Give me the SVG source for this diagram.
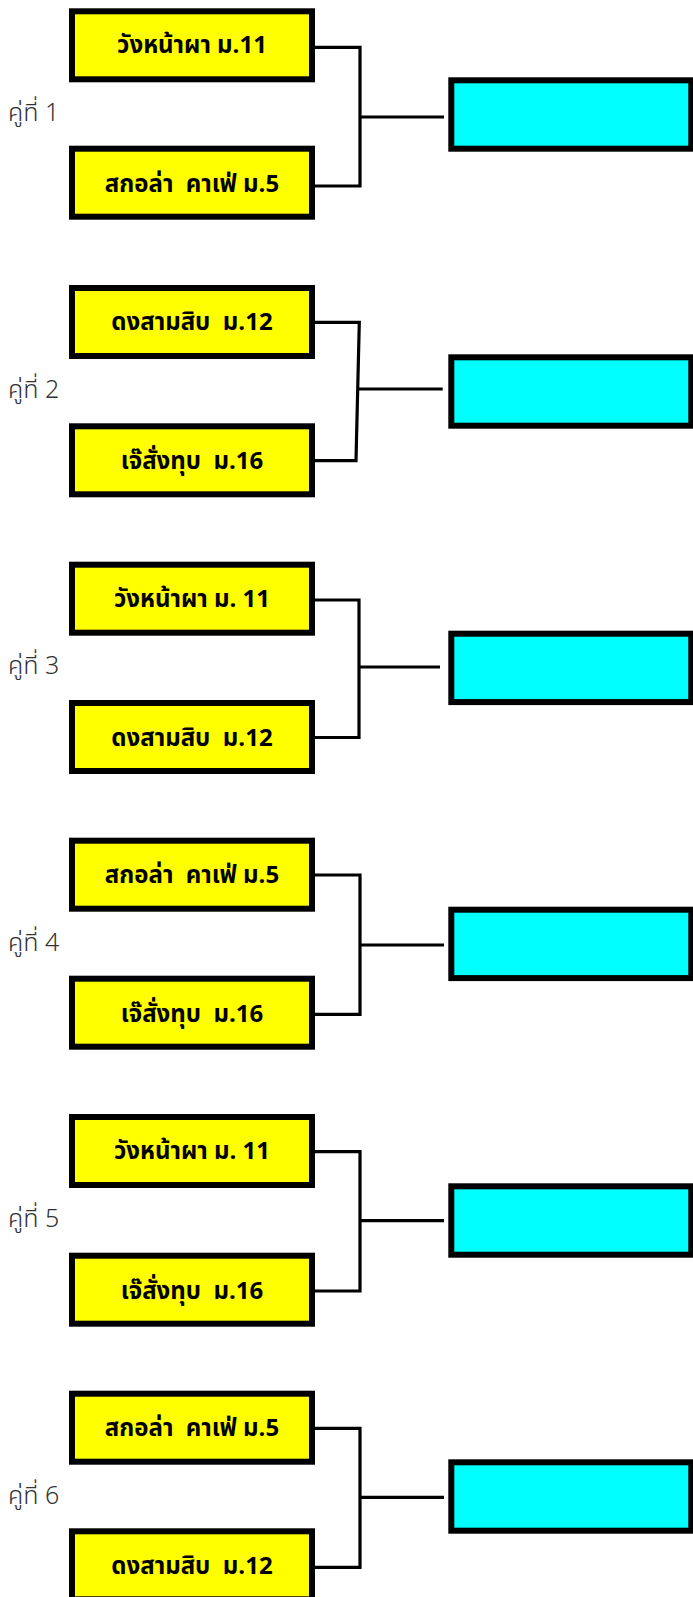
<svg xmlns="http://www.w3.org/2000/svg" width="693" height="1597" viewBox="0 0 693 1597">
<style>
.team{fill:#ffff00;stroke:#000;stroke-width:6}
.win{fill:#00ffff;stroke:#000;stroke-width:6}
.tt{font-family:"Noto Sans Thai","Noto Sans","DejaVu Sans",sans-serif;font-weight:bold;font-size:24px;fill:#000;text-anchor:middle;white-space:pre}
.lbl{font-family:"Noto Sans Thai","Noto Sans","DejaVu Sans",sans-serif;font-weight:300;font-size:25px;fill:#333}
.con{fill:none;stroke:#000;stroke-width:3.2;stroke-linecap:butt;stroke-linejoin:miter}
</style>
<rect width="693" height="1597" fill="#fff"/>
<g id="connectors">
<path class="con" d="M315 47.3H360V186H315M360 117H444"/>
<path class="con" d="M315 322.3H359.3L356 460.7H315M357.5 389H442.7"/>
<path class="con" d="M315 600H359V737.5H315M358.5 667H440"/>
<path class="con" d="M315 875H360V1014.3H315M360 945H444"/>
<path class="con" d="M315 1151.7H360V1291H315M360 1220.7H444"/>
<path class="con" d="M315 1428.3H360V1567.3H315M360 1497.3H444"/>
</g>
<g id="pair1">
<text class="lbl" x="8" y="121">คู่ที่ 1</text>
<g id="p1a"><rect class="team" x="72" y="11.3" width="240" height="68"/><text class="tt" x="192" y="53.3">วังหน้าผา ม.11</text></g>
<g id="p1b"><rect class="team" x="72" y="148.7" width="240" height="68"/><text class="tt" x="192" y="191.7" xml:space="preserve">สกอล่า  คาเฟ่ ม.5</text></g>
<g id="p1w"><rect class="win" x="451.3" y="80.3" width="240" height="68.4"/></g>
</g>
<g id="pair2">
<text class="lbl" x="8" y="398">คู่ที่ 2</text>
<g id="p2a"><rect class="team" x="72" y="288" width="240" height="68"/><text class="tt" x="192" y="330" xml:space="preserve">ดงสามสิบ  ม.12</text></g>
<g id="p2b"><rect class="team" x="72" y="426.3" width="240" height="68"/><text class="tt" x="192" y="469" xml:space="preserve">เจ๊สั่งทุบ  ม.16</text></g>
<g id="p2w"><rect class="win" x="451.3" y="357.3" width="240" height="68.4"/></g>
</g>
<g id="pair3">
<text class="lbl" x="8" y="674">คู่ที่ 3</text>
<g id="p3a"><rect class="team" x="72" y="564.7" width="240" height="68"/><text class="tt" x="192" y="606.7">วังหน้าผา ม. 11</text></g>
<g id="p3b"><rect class="team" x="72" y="703" width="240" height="68"/><text class="tt" x="192" y="745.7" xml:space="preserve">ดงสามสิบ  ม.12</text></g>
<g id="p3w"><rect class="win" x="451.3" y="633.7" width="240" height="68.4"/></g>
</g>
<g id="pair4">
<text class="lbl" x="8" y="950.5">คู่ที่ 4</text>
<g id="p4a"><rect class="team" x="72" y="840.7" width="240" height="68"/><text class="tt" x="192" y="882.7" xml:space="preserve">สกอล่า  คาเฟ่ ม.5</text></g>
<g id="p4b"><rect class="team" x="72" y="978.7" width="240" height="68"/><text class="tt" x="192" y="1021.5" xml:space="preserve">เจ๊สั่งทุบ  ม.16</text></g>
<g id="p4w"><rect class="win" x="451.3" y="909.7" width="240" height="68.4"/></g>
</g>
<g id="pair5">
<text class="lbl" x="8" y="1227">คู่ที่ 5</text>
<g id="p5a"><rect class="team" x="72" y="1117" width="240" height="68"/><text class="tt" x="192" y="1159">วังหน้าผา ม. 11</text></g>
<g id="p5b"><rect class="team" x="72" y="1255.7" width="240" height="68"/><text class="tt" x="192" y="1298.5" xml:space="preserve">เจ๊สั่งทุบ  ม.16</text></g>
<g id="p5w"><rect class="win" x="451.3" y="1186.3" width="240" height="68.4"/></g>
</g>
<g id="pair6">
<text class="lbl" x="8" y="1503.5">คู่ที่ 6</text>
<g id="p6a"><rect class="team" x="72" y="1393.7" width="240" height="68"/><text class="tt" x="192" y="1435.7" xml:space="preserve">สกอล่า  คาเฟ่ ม.5</text></g>
<g id="p6b"><rect class="team" x="72" y="1531.3" width="240" height="68"/><text class="tt" x="192" y="1574.3" xml:space="preserve">ดงสามสิบ  ม.12</text></g>
<g id="p6w"><rect class="win" x="451.3" y="1462.3" width="240" height="68.4"/></g>
</g>
</svg>
